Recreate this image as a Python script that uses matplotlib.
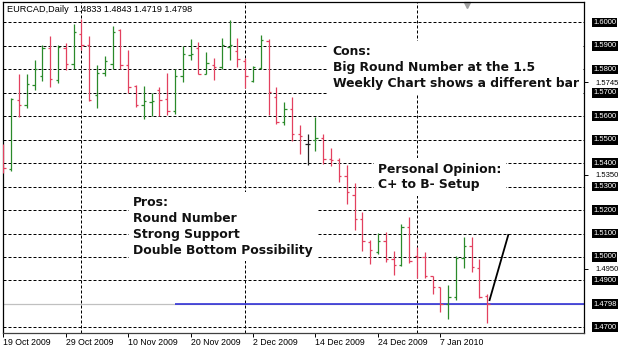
import numpy as np
import matplotlib
matplotlib.use("Agg")
import matplotlib.pyplot as plt
import matplotlib.transforms as mtransforms

# EURCAD daily bars, 19 Oct 2009 .. 15 Jan 2010
opens = [1.5455, 1.5374, 1.5670, 1.5649, 1.5734, 1.5770, 1.5891, 1.5753, 1.5893, 1.5821,
         1.5953, 1.5905, 1.5689, 1.5786, 1.5824, 1.5967, 1.5817, 1.5729, 1.5649, 1.5660,
         1.5714, 1.5674, 1.5621, 1.5771, 1.5860, 1.5893, 1.5781, 1.5817, 1.5810, 1.5896,
         1.5877, 1.5835, 1.5751, 1.5806, 1.5920, 1.5683, 1.5576, 1.5633, 1.5526, 1.5483,
         1.5497, 1.5509, 1.5416, 1.5414, 1.5347, 1.5265, 1.5160, 1.5064, 1.5020, 1.5067,
         1.4991, 1.4967, 1.5129, 1.5003, 1.4999, 1.4917, 1.4871, 1.4800, 1.4829, 1.4996,
         1.5046, 1.4953, 1.4833]
highs = [1.5481, 1.5679, 1.5781, 1.5781, 1.5841, 1.5906, 1.5941, 1.5906, 1.5914, 1.5993,
         1.6015, 1.5941, 1.5820, 1.5857, 1.5986, 1.5974, 1.5881, 1.5734, 1.5729, 1.5699,
         1.5727, 1.5786, 1.5803, 1.5900, 1.5931, 1.5917, 1.5874, 1.5850, 1.5934, 1.6010,
         1.5934, 1.5850, 1.5814, 1.5947, 1.5928, 1.5726, 1.5661, 1.5683, 1.5561, 1.5523,
         1.5597, 1.5523, 1.5466, 1.5421, 1.5393, 1.5317, 1.5191, 1.5074, 1.5103, 1.5107,
         1.5027, 1.5139, 1.5171, 1.5041, 1.5020, 1.4917, 1.4874, 1.4881, 1.5003, 1.5086,
         1.5086, 1.4993, 1.4843]
lows = [1.5357, 1.5367, 1.5599, 1.5636, 1.5710, 1.5750, 1.5727, 1.5743, 1.5796, 1.5800,
        1.5881, 1.5664, 1.5636, 1.5770, 1.5803, 1.5800, 1.5700, 1.5641, 1.5589, 1.5603,
        1.5603, 1.5606, 1.5610, 1.5746, 1.5839, 1.5781, 1.5781, 1.5753, 1.5800, 1.5839,
        1.5810, 1.5720, 1.5745, 1.5803, 1.5605, 1.5569, 1.5561, 1.5493, 1.5440, 1.5393,
        1.5450, 1.5397, 1.5386, 1.5319, 1.5228, 1.5117, 1.5024, 1.4971, 1.5014, 1.4979,
        1.4921, 1.4960, 1.4974, 1.4910, 1.4910, 1.4841, 1.4767, 1.4734, 1.4817, 1.4953,
        1.4934, 1.4824, 1.4719]
closes = [1.5379, 1.5674, 1.5649, 1.5739, 1.5800, 1.5891, 1.5757, 1.5894, 1.5821, 1.5960,
          1.5903, 1.5670, 1.5786, 1.5834, 1.5960, 1.5820, 1.5724, 1.5646, 1.5667, 1.5665,
          1.5670, 1.5621, 1.5771, 1.5867, 1.5866, 1.5781, 1.5827, 1.5810, 1.5903, 1.5903,
          1.5846, 1.5770, 1.5809, 1.5925, 1.5705, 1.5576, 1.5633, 1.5523, 1.5517, 1.5483,
          1.5509, 1.5416, 1.5414, 1.5347, 1.5279, 1.5160, 1.5067, 1.5031, 1.5067, 1.4991,
          1.4967, 1.5129, 1.4981, 1.4999, 1.4917, 1.4871, 1.4800, 1.4831, 1.4996, 1.5046,
          1.4956, 1.4831, 1.4798]

date_ticks = [0, 8, 16, 24, 32, 40, 48, 56]
date_labels = ["19 Oct 2009", "29 Oct 2009", "10 Nov 2009", "20 Nov 2009",
               "2 Dec 2009", "14 Dec 2009", "24 Dec 2009", "7 Jan 2010"]
month_starts = [10, 31, 53]

level_lines = [1.60, 1.59, 1.58, 1.57, 1.56, 1.55, 1.54, 1.53, 1.52, 1.51, 1.50, 1.49, 1.47]
axis_prices = [1.5745, 1.5350, 1.4950]
bid = 1.4798
support_from = 22
trend_x = [62.3, 64.7]
trend_y = [1.4816, 1.5094]

x = np.arange(len(opens))
o = np.array(opens)
h = np.array(highs)
l = np.array(lows)
c = np.array(closes)

up_col = "#2a8a2a"
down_col = "#e3405f"
cols = np.where(c > o, up_col, np.where(c < o, down_col, "#202020"))

fig = plt.figure(figsize=(6.25, 3.5), dpi=100)
ax = fig.add_axes([2.5 / 625, 17 / 350, 581.5 / 625, 331 / 350])
ax.set_xlim(-0.1, 74.4)
ax.set_ylim(1.46757, 1.60874)

# horizontal price lines and month separators
ax.hlines(level_lines, -0.1, 74.4, colors="black", lw=0.72,
          linestyles=(0, (3, 2)), zorder=1)
for m in month_starts:
    ax.axvline(m, color="black", lw=0.72, ls=(0, (3, 2)), zorder=1)

# bid line and support line
ax.axhline(bid, color="#c0c0c0", lw=0.9, zorder=1)
ax.hlines(bid, support_from, 74.4, colors="#2323d6", lw=1.1, zorder=2)

# OHLC bars
tk = 0.3
ax.vlines(x, l, h, colors=cols, lw=0.9, zorder=4)
ax.hlines(o, x - tk, x, colors=cols, lw=0.9, zorder=4)
ax.hlines(c, x, x + tk, colors=cols, lw=0.9, zorder=4)

# drawn trend line
ax.plot(trend_x, trend_y, color="black", lw=1.3, zorder=5)

# notes
note_kw = dict(fontsize=8.9, family="DejaVu Sans", weight="bold", color="#111111",
               va="center", ha="left", linespacing=1.27, zorder=3,
               bbox=dict(facecolor="white", edgecolor="none", pad=3))
ax.text(42.2, 1.5808, "Cons:\nBig Round Number at the 1.5\nWeekly Chart shows a different bar", **note_kw)
ax.text(16.6, 1.5130, "Pros:\nRound Number\nStrong Support\nDouble Bottom Possibility", **note_kw)
ax.text(48.0, 1.5341, "Personal Opinion:\nC+ to B- Setup", **note_kw)

ax.text(0.0077, 0.976, "EURCAD,Daily  1.4833 1.4843 1.4719 1.4798", transform=ax.transAxes,
        fontsize=6.6, family="Liberation Sans", va="center", ha="left")
ax.plot([0.799], [0.991], marker="v", color="#a0a0a0", ms=4, transform=ax.transAxes,
        clip_on=False)

# right price scale
ax.yaxis.tick_right()
ax.set_yticks(axis_prices)
ax.set_yticklabels([f"{p:.4f}" for p in axis_prices])
ax.tick_params(axis="y", length=3, width=0.7, pad=5, labelsize=5.5, direction="out")
for lab in ax.get_yticklabels():
    lab.set_family("Liberation Sans")
blend = mtransforms.blended_transform_factory(ax.transAxes, ax.transData)
for p in level_lines[:-1] + [bid, 1.47]:
    ax.text(1.0155, p, f"{p:.4f}", transform=blend, fontsize=5.5, family="Liberation Sans",
            color="white", va="center", ha="left",
            bbox=dict(facecolor="black", edgecolor="none", pad=1))

# date scale
ax.set_xticks(date_ticks)
ax.set_xticklabels(date_labels, ha="left", family="Liberation Sans")
ax.tick_params(axis="x", length=3, width=0.7, pad=0.5, labelsize=6.3, direction="out")

for s in ax.spines.values():
    s.set_color("black")
    s.set_linewidth(0.9)
ax.spines["bottom"].set_color("#404040")

fig.savefig("out.png", dpi=100)
